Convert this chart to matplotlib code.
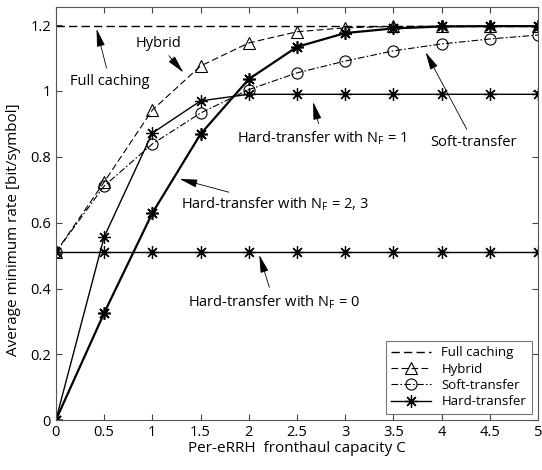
import matplotlib.pyplot as plt

# capacidade de fronthaul por eRRH
C = [0, 0.5, 1, 1.5, 2, 2.5, 3, 3.5, 4, 4.5, 5]

full_caching = [1.197] * 11
hybrid = [0.51, 0.723, 0.942, 1.076, 1.146, 1.18, 1.192, 1.196, 1.197, 1.197, 1.197]
soft = [0.51, 0.711, 0.839, 0.933, 1.004, 1.055, 1.091, 1.122, 1.143, 1.158, 1.17]
hard_nf1 = [0, 0.556, 0.872, 0.97, 0.99, 0.99, 0.99, 0.99, 0.99, 0.99, 0.99]
hard_nf23 = [0, 0.325, 0.629, 0.869, 1.036, 1.134, 1.176, 1.19, 1.196, 1.197, 1.197]
hard_nf0 = [0.51] * 11

plt.rcParams['font.family'] = ['Open Sans', 'DejaVu Sans']
plt.rcParams['font.size'] = 10.5

fig = plt.figure(figsize=(5.42, 4.70), dpi=100)
ax = fig.add_axes([0.103, 0.106, 0.890, 0.879])

ast = (8, 2, 0)
ax.plot(C, full_caching, color='k', ls=(0, (6, 3)), lw=1.0, label='Full caching')
ax.plot(C, hybrid, color='k', ls=(0, (6, 3)), lw=0.8, marker='^', mfc='none', ms=8, mew=0.8, label='Hybrid')
ax.plot(C, soft, color='k', ls=(0, (6, 2, 1.5, 2)), lw=0.8, marker='o', mfc='none', ms=8, mew=0.8,
        label='Soft-transfer')
ax.plot(C, hard_nf1, 'k-', lw=1.0, marker=ast, ms=9, mew=0.9, label='Hard-transfer')
ax.plot(C, hard_nf23, 'k-', lw=1.6, marker=ast, ms=9, mew=1.2)
ax.plot(C, hard_nf0, 'k-', lw=1.0, marker=ast, ms=9, mew=0.9)

ax.set_xlim(0, 5)
ax.set_ylim(0, 1.255)
ax.set_xticks(C)
ax.set_xticklabels(['0', '0.5', '1', '1.5', '2', '2.5', '3', '3.5', '4', '4.5', '5'])
ax.set_yticks([0, 0.2, 0.4, 0.6, 0.8, 1.0, 1.2])
ax.set_yticklabels(['0', '0.2', '0.4', '0.6', '0.8', '1', '1.2'])
ax.tick_params(direction='in', top=True, right=True, length=4, color='#444444')
for s in ax.spines.values():
    s.set_color('#555555')
    s.set_linewidth(0.8)

ax.set_xlabel('Per-eRRH  fronthaul capacity C', fontsize=11, labelpad=1)
ax.set_ylabel('Average minimum rate [bit/symbol]', fontsize=11, labelpad=3)
ax.yaxis.set_label_coords(-0.072, 0.46)

seta = dict(arrowstyle='-|>,head_length=1.1,head_width=0.25', color='black', lw=0.6, mutation_scale=10)
ax.annotate('Full caching', xy=(0.415, 1.197), xytext=(0.56, 1.03), ha='center', va='center', arrowprops=seta)
ax.annotate('Hybrid', xy=(1.34, 1.05), xytext=(1.06, 1.145), ha='center', va='center', arrowprops=seta)
ax.annotate('Hard-transfer with N$_\\mathregular{F}$ = 2, 3', xy=(1.255, 0.735), xytext=(2.27, 0.655),
            ha='center', va='center', arrowprops=seta)
ax.annotate('Hard-transfer with N$_\\mathregular{F}$ = 1', xy=(2.66, 0.975), xytext=(2.76, 0.857),
            ha='center', va='center', arrowprops=seta)
ax.annotate('Soft-transfer', xy=(3.82, 1.125), xytext=(4.33, 0.845), ha='center', va='center', arrowprops=seta)
ax.annotate('Hard-transfer with N$_\\mathregular{F}$ = 0', xy=(2.1, 0.51), xytext=(2.26, 0.36),
            ha='center', va='center', arrowprops=seta)

leg = ax.legend(loc='lower right', fontsize=9.5, fancybox=False, edgecolor='#555555',
                handlelength=3.0, borderaxespad=0.5, labelspacing=0.25)
leg.get_frame().set_linewidth(0.8)

plt.savefig('out.png', dpi=100)
